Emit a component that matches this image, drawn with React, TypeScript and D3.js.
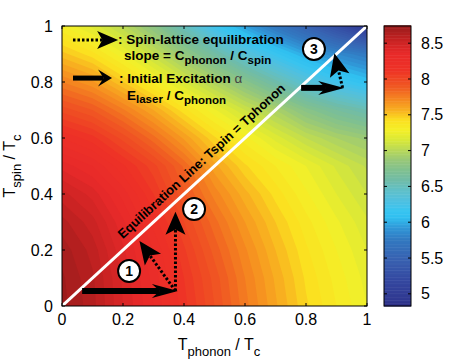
import * as d3 from 'd3';

// grid positions (T_phonon / Tc and T_spin / Tc) where the field is read
const GRID = [0, 0.1, 0.2, 0.3, 0.4, 0.5, 0.6, 0.7, 0.8, 0.9, 1];

// field values, one row per T_spin value (bottom to top)
const FIELD = [
  [8.72, 8.62, 8.45, 8.3, 8.12, 7.95, 7.77, 7.61, 7.46, 7.35, 7.25],
  [8.71, 8.61, 8.44, 8.28, 8.1, 7.93, 7.75, 7.59, 7.44, 7.33, 7.23],
  [8.68, 8.58, 8.41, 8.25, 8.06, 7.88, 7.71, 7.55, 7.41, 7.3, 7.2],
  [8.62, 8.52, 8.36, 8.18, 8.0, 7.82, 7.65, 7.5, 7.37, 7.26, 7.16],
  [8.52, 8.43, 8.28, 8.1, 7.91, 7.73, 7.57, 7.43, 7.31, 7.2, 7.1],
  [8.38, 8.3, 8.16, 8.02, 7.84, 7.62, 7.46, 7.35, 7.25, 7.14, 7.04],
  [8.2, 8.12, 7.98, 7.82, 7.64, 7.46, 7.32, 7.18, 7.05, 6.95, 6.88],
  [7.98, 7.9, 7.76, 7.6, 7.42, 7.26, 7.1, 6.95, 6.78, 6.65, 6.55],
  [7.75, 7.66, 7.5, 7.33, 7.15, 6.97, 6.78, 6.58, 6.38, 6.22, 6.1],
  [7.52, 7.42, 7.26, 7.07, 6.85, 6.62, 6.38, 6.17, 5.98, 5.85, 5.75],
  [7.3, 7.18, 7.02, 6.8, 6.5, 6.2, 5.95, 5.72, 5.5, 5.25, 4.95],
];

// colour map
const CMAP_VALUES = [4.82, 4.91, 5.19, 5.47, 5.75, 5.93, 6.07, 6.17, 6.31, 6.45, 6.59, 6.73, 6.87, 7.01, 7.15, 7.29, 7.43, 7.57, 7.71, 7.89, 8.13, 8.36, 8.54, 8.74];
const CMAP_COLORS = ['#2a2a80', '#303890', '#3448a0', '#3860b0', '#3278c0', '#3098d8', '#30c0f0', '#38c4f0', '#50c0e0', '#60c0c8', '#70bca8', '#80c090', '#98c878', '#b8d858', '#d8e838', '#f4f028', '#fbe020', '#f8b020', '#f58a20', '#f05a22', '#ee3226', '#e82a2a', '#c82222', '#9a1c1c'];
const CBAR_DOMAIN = [4.83, 8.74];

const X_TICKS = [0, 0.2, 0.4, 0.6, 0.8, 1];
const Y_TICKS = [0, 0.2, 0.4, 0.6, 0.8, 1];
const CBAR_TICKS = [5, 5.5, 6, 6.5, 7, 7.5, 8, 8.5];

// annotations, in data units
const SOLID_ARROWS = [
  { from: [0.066, 0.054], to: [0.38, 0.054] },
  { from: [0.784, 0.779], to: [0.925, 0.779] },
];
const DASHED_ARROWS = [
  { from: [0.372, 0.054], to: [0.254, 0.232] },
  { from: [0.372, 0.054], to: [0.372, 0.337] },
  { from: [0.92, 0.779], to: [0.893, 0.903] },
];
const STEP_LABELS = [
  { label: '1', at: [0.22, 0.125] },
  { label: '2', at: [0.433, 0.346] },
  { label: '3', at: [0.826, 0.918] },
];

const FONT = '"Liberation Sans", Arial, Helvetica, sans-serif';

type Pt = [number, number];

function arrowGeom(p0: Pt, p1: Pt, L: number, hw: number, notch = 0.72) {
  const dx = p1[0] - p0[0];
  const dy = p1[1] - p0[1];
  const len = Math.hypot(dx, dy);
  const ux = dx / len, uy = dy / len;
  const nx = -uy, ny = ux;
  const bx = p1[0] - ux * L, by = p1[1] - uy * L;
  const nb: Pt = [p1[0] - ux * L * notch, p1[1] - uy * L * notch];
  const head = [p1, [bx + nx * hw, by + ny * hw], nb, [bx - nx * hw, by - ny * hw]];
  return { shaftEnd: nb, head: head.map((p) => p.join(',')).join(' ') };
}

export default function App() {
  const x = d3.scaleLinear().domain([0, 1]).range([62, 367]);
  const y = d3.scaleLinear().domain([0, 1]).range([306, 26]);
  const yc = d3.scaleLinear().domain(CBAR_DOMAIN).range([306, 26]);
  const cmap = d3.scaleLinear<string>().domain(CMAP_VALUES).range(CMAP_COLORS).interpolate(d3.interpolateRgb).clamp(true);

  const n = GRID.length;
  const step = 0.05;
  const thresholds = d3.range(4.8, 8.8, step);
  const contours = d3.contours().size([n, n]).thresholds(thresholds)(FIELD.flat());
  // contour coordinates: grid index i sits at i + 0.5
  const gx = d3.scaleLinear().domain([0.5, n - 0.5]).range([GRID[0], GRID[n - 1]]);
  const path = d3.geoPath(
    d3.geoTransform({
      point(px: number, py: number) {
        (this as any).stream.point(x(gx(px)), y(gx(py)));
      },
    })
  );

  const cbarSteps = d3.range(CBAR_DOMAIN[0], CBAR_DOMAIN[1], 0.02);

  const ang = Math.atan2(y(1) - y(0), x(1) - x(0));
  const t0 = 0.217;
  const off = 8;
  const lx = x(t0) + Math.sin(ang) * off;
  const ly = y(t0) - Math.cos(ang) * off;

  const legDash = arrowGeom([x(0.036), y(0.95)], [x(0.184), y(0.95)], 21, 9, 0.75);
  const legSolid = arrowGeom([x(0.036), y(0.814)], [x(0.164), y(0.814)], 14, 8.5, 0.6);

  return (
    <svg width={465} height={364} style={{ position: 'absolute', left: 0, top: 0, background: '#fff' }} fontFamily={FONT}>
      <defs>
        <clipPath id="plot-clip">
          <rect x={x(0)} y={y(1)} width={x(1) - x(0)} height={y(0) - y(1)} />
        </clipPath>
      </defs>
      <g clipPath="url(#plot-clip)">
        {contours.map((c, i) => (
          <path key={i} d={path(c as any) || ''} fill={cmap(c.value + step / 2)} />
        ))}
        <line x1={x(0)} y1={y(0)} x2={x(1)} y2={y(1)} stroke="#fff" strokeWidth={3} />
      </g>

      {/* equilibration line label */}
      <text
        x={lx}
        y={ly}
        transform={`rotate(${(ang * 180) / Math.PI}, ${lx}, ${ly})`}
        fontSize={13}
        fontWeight="bold"
        fill="#000"
      >
        Equilibration Line: Tspin = Tphonon
      </text>

      {/* excitation arrows */}
      {SOLID_ARROWS.map((a, i) => {
        const g = arrowGeom([x(a.from[0]), y(a.from[1])], [x(a.to[0]), y(a.to[1])], 26, 7, 0.7);
        return (
          <g key={i}>
            <line x1={x(a.from[0])} y1={y(a.from[1])} x2={g.shaftEnd[0]} y2={g.shaftEnd[1]} stroke="#000" strokeWidth={6} />
            <polygon points={g.head} fill="#000" />
          </g>
        );
      })}
      {DASHED_ARROWS.map((a, i) => {
        const g = arrowGeom([x(a.from[0]), y(a.from[1])], [x(a.to[0]), y(a.to[1])], 23, 10, 0.78);
        return (
          <g key={i}>
            <line x1={x(a.from[0])} y1={y(a.from[1])} x2={g.shaftEnd[0]} y2={g.shaftEnd[1]} stroke="#000" strokeWidth={3} strokeDasharray="2.5,2" />
            <polygon points={g.head} fill="#000" />
          </g>
        );
      })}
      {STEP_LABELS.map((s) => (
        <g key={s.label}>
          <circle cx={x(s.at[0])} cy={y(s.at[1])} r={11} fill="#fff" stroke="#000" strokeWidth={2} />
          <text x={x(s.at[0])} y={y(s.at[1])} dy="0.36em" textAnchor="middle" fontSize={14} fontWeight="bold">
            {s.label}
          </text>
        </g>
      ))}

      {/* legend */}
      <line x1={x(0.036)} y1={y(0.95)} x2={legDash.shaftEnd[0]} y2={legDash.shaftEnd[1]} stroke="#000" strokeWidth={3} strokeDasharray="2.5,2" />
      <polygon points={legDash.head} fill="#000" />
      <line x1={x(0.036)} y1={y(0.814)} x2={legSolid.shaftEnd[0]} y2={legSolid.shaftEnd[1]} stroke="#000" strokeWidth={5} />
      <polygon points={legSolid.head} fill="#000" />
      <g fontSize={13.5} fontWeight="bold" fill="#000">
        <text x={118} y={44}>: Spin-lattice equilibration</text>
        <text x={124} y={60}>
          slope = C<tspan fontSize={11.5} dy={4}>phonon</tspan>
          <tspan dy={-4}> / C</tspan>
          <tspan fontSize={11.5} dy={4}>spin</tspan>
        </text>
        <text x={119} y={83}>
          : Initial Excitation{' '}
          <tspan fontWeight="normal" fill="#444">α</tspan>
        </text>
        <text x={127} y={100}>
          E<tspan fontSize={11.5} dy={3}>laser</tspan>
          <tspan dy={-3}> / C</tspan>
          <tspan fontSize={11.5} dy={4}>phonon</tspan>
        </text>
      </g>

      {/* axes box and ticks */}
      <rect x={x(0)} y={y(1)} width={x(1) - x(0)} height={y(0) - y(1)} fill="none" stroke="#000" strokeWidth={1} />
      {X_TICKS.map((t) => (
        <g key={'x' + t}>
          <line x1={x(t)} x2={x(t)} y1={y(0)} y2={y(0) - 3} stroke="#000" />
          <line x1={x(t)} x2={x(t)} y1={y(1)} y2={y(1) + 3} stroke="#000" />
          <text x={x(t)} y={325} textAnchor="middle" fontSize={16}>
            {t}
          </text>
        </g>
      ))}
      {Y_TICKS.map((t) => (
        <g key={'y' + t}>
          <line x1={x(0)} x2={x(0) + 3} y1={y(t)} y2={y(t)} stroke="#000" />
          <line x1={x(1)} x2={x(1) - 3} y1={y(t)} y2={y(t)} stroke="#000" />
          <text x={53} y={y(t)} dy="0.35em" textAnchor="end" fontSize={16}>
            {t}
          </text>
        </g>
      ))}
      <text x={219} y={350} textAnchor="middle" fontSize={16}>
        T<tspan fontSize={13} dy={6}>phonon</tspan>
        <tspan dy={-6}> / T</tspan>
        <tspan fontSize={13} dy={6}>c</tspan>
      </text>
      <text transform="translate(15,166) rotate(-90)" textAnchor="middle" fontSize={16}>
        T<tspan fontSize={13} dy={6}>spin</tspan>
        <tspan dy={-6}> / T</tspan>
        <tspan fontSize={13} dy={6}>c</tspan>
      </text>

      {/* colour bar */}
      {cbarSteps.map((v) => (
        <rect key={v} x={384} y={yc(v + 0.02)} width={27} height={yc(v) - yc(v + 0.02) + 0.5} fill={cmap(v + 0.01)} />
      ))}
      <rect x={384} y={yc(CBAR_DOMAIN[1])} width={27} height={yc(CBAR_DOMAIN[0]) - yc(CBAR_DOMAIN[1])} fill="none" stroke="#000" />
      {CBAR_TICKS.map((t) => (
        <g key={'c' + t}>
          <line x1={384} x2={387} y1={yc(t)} y2={yc(t)} stroke="#000" />
          <line x1={411} x2={408} y1={yc(t)} y2={yc(t)} stroke="#000" />
          <text x={421} y={yc(t)} dy="0.35em" fontSize={16}>
            {t}
          </text>
        </g>
      ))}
    </svg>
  );
}
